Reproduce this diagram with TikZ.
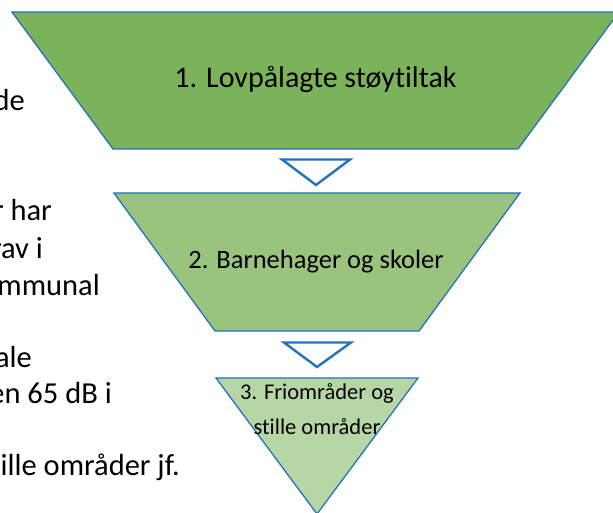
\documentclass[tikz,border=0pt]{standalone}
\usepackage{fontspec}
\setmainfont[Ligatures={NoCommon}]{Carlito}
\definecolor{gA}{HTML}{7BB35A}
\definecolor{gB}{HTML}{9AC47E}
\definecolor{gC}{HTML}{B6D6A5}
\definecolor{edge}{HTML}{2272C0}
\begin{document}
\begin{tikzpicture}[x=1pt,y=-1pt,
  shapeline/.style={draw=edge,line width=1.3pt,line join=miter},
  arr/.style={draw=edge,line width=2.4pt,fill=white,line join=miter},
  side/.style={anchor=east,inner sep=0pt,font=\fontsize{30.5}{36}\selectfont},
]
\useasboundingbox (0,0) rectangle (613,513);
\begin{scope}
\clip (0,0) rectangle (613,513);
% level 1
\filldraw[shapeline,fill=gA] (12,12) -- (619,12) -- (518,149) -- (113,149) -- cycle;
\node[font=\fontsize{30}{36}\selectfont] (t1) at (315.5,79) {1. Lovpålagte støytiltak};
% arrow 1
\filldraw[arr] (282,159.5) -- (350,159.5) -- (316,185) -- cycle;
% level 2
\filldraw[shapeline,fill=gB] (114,193) -- (520,193) -- (419,331) -- (215,331) -- cycle;
\node[font=\fontsize{26.5}{32}\selectfont] (t2) at (316,262) {2. Barnehager og skoler};
% arrow 2
\filldraw[arr] (284,342.5) -- (351,342.5) -- (317,367) -- cycle;
% level 3
\filldraw[shapeline,fill=gC] (216,378) -- (418,378) -- (317,514) -- cycle;
\node[font=\fontsize{22.5}{35}\selectfont,align=center,inner sep=0pt] (t3) at (317,409) {3. Friområder og\\stille områder};
% clipped side text
\node[side] (s1) at (25,100) {de};
\node[side] (s2) at (52,210) {r har};
\node[side] (s3) at (43,248) {rav i};
\node[side] (s4) at (100,285) {mmunal};
\node[side] (s5) at (32,357) {ale};
\node[side] (s6) at (112,393) {en 65 dB i};
\node[side] (s7) at (180,467) {ille områder jf.};
\end{scope}
\end{tikzpicture}
\end{document}
